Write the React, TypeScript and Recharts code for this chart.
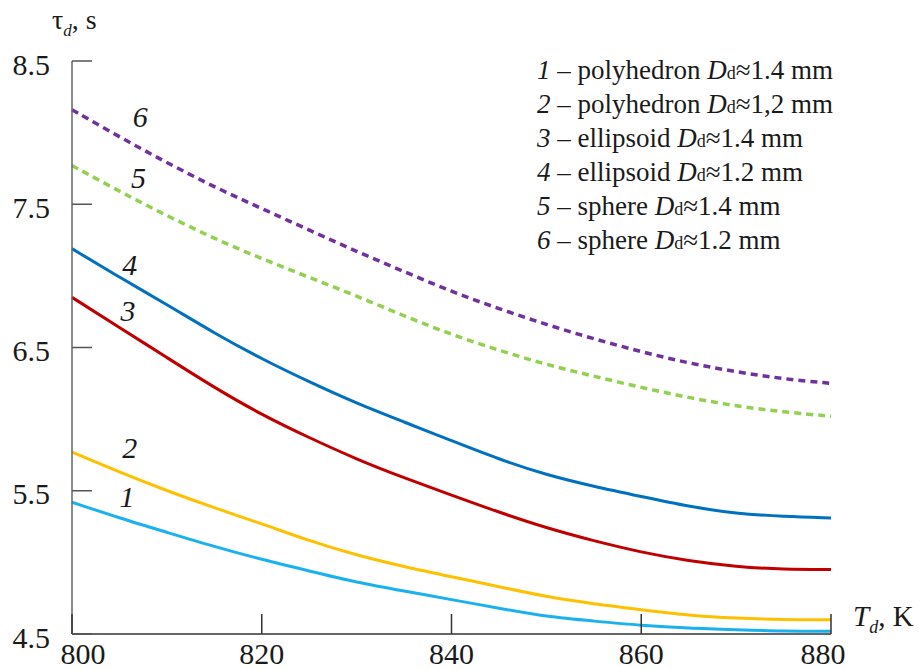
import React from "react";
import { LineChart, Line, XAxis, YAxis, ReferenceDot } from "recharts";

// temperature T_d, K
const temps = [800, 805, 810, 815, 820, 825, 830, 835, 840, 845, 850, 855, 860, 865, 870, 875, 880];

// tau_d, s
const polyhedron14 = [5.42, 5.31, 5.21, 5.11, 5.02, 4.94, 4.86, 4.8, 4.74, 4.68, 4.62, 4.59, 4.56, 4.54, 4.53, 4.52, 4.52];
const polyhedron12 = [5.77, 5.63, 5.5, 5.38, 5.27, 5.15, 5.05, 4.97, 4.9, 4.83, 4.76, 4.71, 4.67, 4.63, 4.61, 4.6, 4.6];
const ellipsoid14 = [6.85, 6.64, 6.43, 6.22, 6.03, 5.87, 5.72, 5.59, 5.47, 5.35, 5.24, 5.15, 5.07, 5.01, 4.97, 4.95, 4.95];
const ellipsoid12 = [7.19, 6.99, 6.8, 6.6, 6.42, 6.26, 6.11, 5.98, 5.85, 5.72, 5.61, 5.53, 5.46, 5.39, 5.34, 5.32, 5.31];
const sphere14 = [7.77, 7.59, 7.42, 7.26, 7.12, 6.99, 6.86, 6.72, 6.59, 6.48, 6.38, 6.3, 6.22, 6.15, 6.09, 6.05, 6.02];
const sphere12 = [8.16, 7.97, 7.79, 7.62, 7.47, 7.32, 7.17, 7.03, 6.89, 6.77, 6.66, 6.56, 6.47, 6.39, 6.33, 6.28, 6.25];

const xTicks = [800, 820, 840, 860, 880];
const yTicks = [4.5, 5.5, 6.5, 7.5, 8.5];

const legendShapes = ["polyhedron", "polyhedron", "ellipsoid", "ellipsoid", "sphere", "sphere"];
const legendSizes = ["1.4", "1,2", "1.4", "1.2", "1.4", "1.2"];

const data = temps.map((t, i) => ({
  T: t,
  c1: polyhedron14[i],
  c2: polyhedron12[i],
  c3: ellipsoid14[i],
  c4: ellipsoid12[i],
  c5: sphere14[i],
  c6: sphere12[i],
}));

const series = [
  { key: "c1", color: "#19b2ef", dashed: false },
  { key: "c2", color: "#ffc000", dashed: false },
  { key: "c3", color: "#c00000", dashed: false },
  { key: "c4", color: "#0070c0", dashed: false },
  { key: "c5", color: "#92d050", dashed: true },
  { key: "c6", color: "#7030a0", dashed: true },
];

// where the curve numbers sit, in data units
const curveTags = [
  { n: "1", T: 805.8, v: 5.46 },
  { n: "2", T: 806.1, v: 5.8 },
  { n: "3", T: 805.9, v: 6.76 },
  { n: "4", T: 806.1, v: 7.08 },
  { n: "5", T: 807.0, v: 7.69 },
  { n: "6", T: 807.2, v: 8.11 },
];

const FONT = '"Liberation Serif", "DejaVu Serif", serif';

function YTick({ x, y, payload }: any) {
  return (
    <g>
      <line x1={x} x2={x + 20} y1={y} y2={y} stroke="#555" strokeWidth={1.5} />
      <text x={x - 22} y={y + 3} textAnchor="end" dominantBaseline="central" style={{ fontFamily: FONT }} fontSize={30} fill="#1a1a1a">
        {payload.value}
      </text>
    </g>
  );
}

function XTick({ x, y, payload, index }: any) {
  const shift = index === 0 ? 11 : index === xTicks.length - 1 ? -8 : 0;
  return (
    <g>
      <line x1={x} x2={x} y1={y} y2={y - 20} stroke="#333" strokeWidth={1.5} />
      <text x={x + shift} y={y + 30} textAnchor="middle" style={{ fontFamily: FONT }} fontSize={30} fill="#1a1a1a">
        {payload.value}
      </text>
    </g>
  );
}

function TagLabel({ viewBox, text }: any) {
  const cx = viewBox.x + viewBox.width / 2;
  const cy = viewBox.y + viewBox.height / 2;
  return (
    <text x={cx} y={cy} textAnchor="middle" dominantBaseline="central" style={{ fontFamily: FONT, fontStyle: "italic" }} fontSize={30} fill="#1a1a1a">
      {text}
    </text>
  );
}

export default function App() {
  return (
    <div style={{ position: "absolute", left: 0, top: 0, width: 919, height: 670, background: "#fff", fontFamily: FONT, color: "#1a1a1a" }}>
      <LineChart width={919} height={670} data={data} margin={{ top: 61, right: 88, left: 0, bottom: 0 }}>
        <XAxis
          dataKey="T"
          type="number"
          domain={[800, 880]}
          ticks={xTicks}
          height={36}
          tickSize={0}
          tickMargin={0}
          tickLine={false}
          axisLine={{ stroke: "#333", strokeWidth: 1.5 }}
          tick={<XTick />}
        />
        <YAxis
          type="number"
          domain={[4.5, 8.5]}
          ticks={yTicks}
          width={72}
          tickSize={0}
          tickMargin={0}
          tickLine={false}
          axisLine={{ stroke: "#666", strokeWidth: 1.5 }}
          tick={<YTick />}
        />
        {series.map((s) => (
          <Line
            key={s.key}
            type="basis"
            dataKey={s.key}
            stroke={s.color}
            strokeWidth={s.dashed ? 3.5 : 3}
            strokeDasharray={s.dashed ? "7 5" : undefined}
            dot={false}
            isAnimationActive={false}
          />
        ))}
        {curveTags.map((c) => (
          <ReferenceDot key={c.n} x={c.T} y={c.v} r={0} fill="none" stroke="none" label={<TagLabel text={c.n} />} />
        ))}
      </LineChart>

      <div style={{ position: "absolute", left: 52, top: 4, fontSize: 28, whiteSpace: "nowrap" }}>
        τ<sub style={{ fontStyle: "italic", fontSize: 17 }}>d</sub>, s
      </div>
      <div style={{ position: "absolute", left: 853, top: 600, fontSize: 29, whiteSpace: "nowrap" }}>
        <i>T</i>
        <sub style={{ fontStyle: "italic", fontSize: 18 }}>d</sub>, K
      </div>

      <div style={{ position: "absolute", left: 537, top: 53, fontSize: 27, whiteSpace: "nowrap" }}>
        {legendShapes.map((shape, i) => (
          <div key={i} style={{ height: 34, lineHeight: "34px" }}>
            <i>{i + 1}</i> – {shape} <i>D</i>
            <span style={{ fontSize: 18, lineHeight: 1 }}>d</span>≈{legendSizes[i]} mm
          </div>
        ))}
      </div>
    </div>
  );
}
